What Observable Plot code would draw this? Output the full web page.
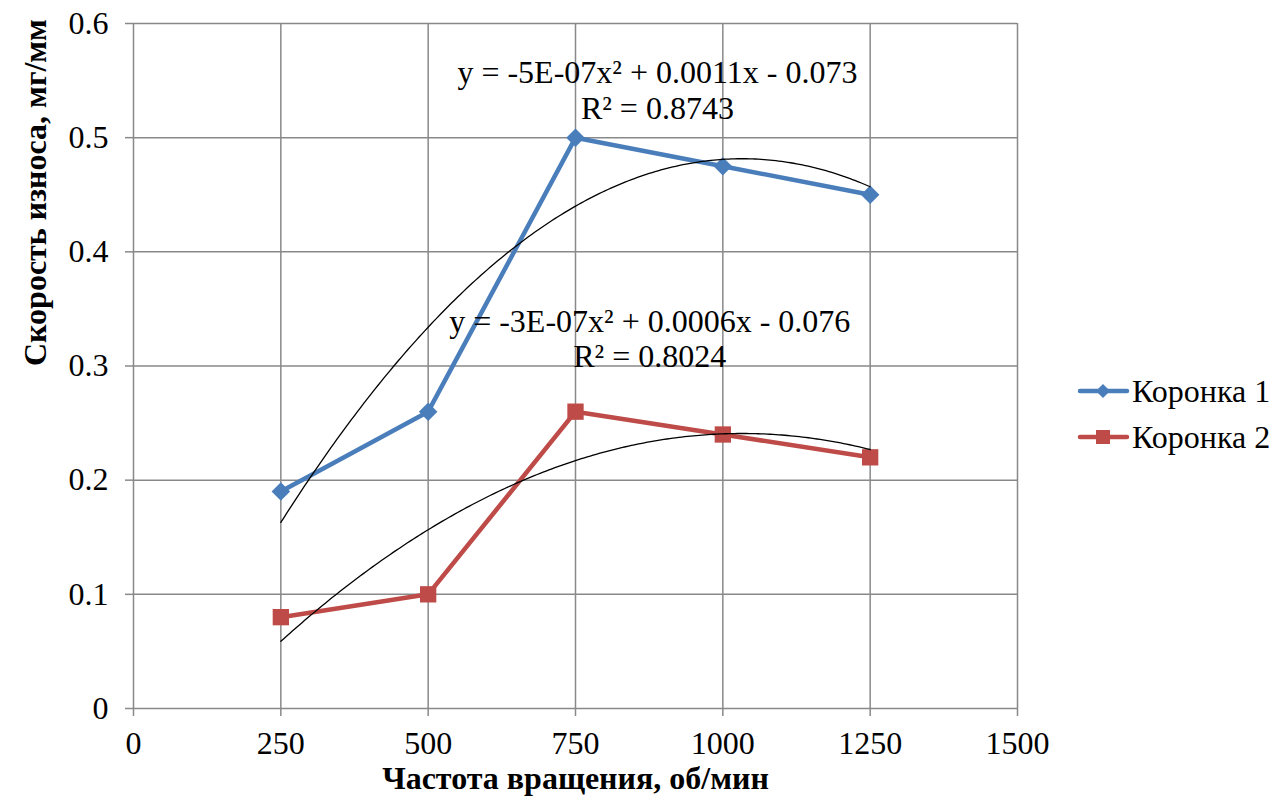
<!DOCTYPE html>
<html>
<head>
<meta charset="utf-8">
<script src="https://cdn.jsdelivr.net/npm/d3@7"></script>
<script src="https://cdn.jsdelivr.net/npm/@observablehq/plot@0.6"></script>
<style>
  html, body { margin: 0; padding: 0; background: #fff; }
  #wrap { position: relative; width: 1286px; height: 805px; font-family: "Liberation Serif", Tinos, "Times New Roman", "DejaVu Serif", serif; }
  #wrap svg text { font-family: "Liberation Serif", Tinos, "Times New Roman", "DejaVu Serif", serif !important; }
  #legend { position: absolute; left: 1077px; top: 368px; font-size: 32px; color: #000; }
  #legend .row { display: flex; align-items: center; height: 46px; }
  #legend svg { margin-right: 2px; }
</style>
</head>
<body>
<div id="wrap"><div id="legend"></div></div>
<script>
const speeds = [250, 500, 750, 1000, 1250];
const crown1 = [0.19, 0.26, 0.50, 0.475, 0.45];
const crown2 = [0.08, 0.10, 0.26, 0.24, 0.22];
const seriesNames = ["Коронка 1", "Коронка 2"];
const xTicks = [0, 250, 500, 750, 1000, 1250, 1500];
const yTicks = [0, 0.1, 0.2, 0.3, 0.4, 0.5, 0.6];
const equations = [
  "y = -5E-07x² + 0.0011x - 0.073\nR² = 0.8743",
  "y = -3E-07x² + 0.0006x - 0.076\nR² = 0.8024"
];
const xTitle = "Частота вращения, об/мин";
const yTitle = "Скорость износа, мг/мм";
const colors = ["#4A7EBB", "#BE4B48"];

// least-squares quadratic trendline (like Excel's polynomial trendline, order 2)
function quadFit(xs, ys) {
  const u = xs.map(x => x / 1000);
  const S = k => d3.sum(u, v => v ** k);
  const T = k => d3.sum(u, (v, i) => v ** k * ys[i]);
  const A = [[S(4), S(3), S(2), T(2)], [S(3), S(2), S(1), T(1)], [S(2), S(1), u.length, T(0)]];
  for (let i = 0; i < 3; i++) {
    for (let j = i + 1; j < 3; j++) {
      const f = A[j][i] / A[i][i];
      for (let k = i; k < 4; k++) A[j][k] -= f * A[i][k];
    }
  }
  const c = [0, 0, 0];
  for (let i = 2; i >= 0; i--) {
    let s = A[i][3];
    for (let k = i + 1; k < 3; k++) s -= A[i][k] * c[k];
    c[i] = s / A[i][i];
  }
  return x => { const v = x / 1000; return c[0] * v * v + c[1] * v + c[2]; };
}

const rows1 = speeds.map((x, i) => ({x, y: crown1[i]}));
const rows2 = speeds.map((x, i) => ({x, y: crown2[i]}));
const f1 = quadFit(speeds, crown1), f2 = quadFit(speeds, crown2);
const xs = d3.range(d3.min(speeds), d3.max(speeds) + 1, 5);
const trend1 = xs.map(x => ({x, y: f1(x)}));
const trend2 = xs.map(x => ({x, y: f2(x)}));

const FONT = '"Liberation Serif", Tinos, "Times New Roman", "DejaVu Serif", serif';
const FS = 32;
const grid = "#898989";
const chart = Plot.plot({
  width: 1286, height: 805,
  marginLeft: 133, marginRight: 269, marginTop: 23, marginBottom: 97,
  style: {fontFamily: FONT, fontSize: FS + "px", color: "#000", background: "#fff"},
  x: {domain: [0, 1500]},
  y: {domain: [0, 0.6]},
  marks: [
    Plot.gridX(xTicks, {stroke: grid, strokeOpacity: 1, strokeWidth: 1.5}),
    Plot.gridY(yTicks, {stroke: grid, strokeOpacity: 1, strokeWidth: 1.5}),
    Plot.axisX(xTicks, {tickSize: 8, tickPadding: 15, stroke: grid, strokeWidth: 1.5, fill: "#000", fontSize: FS, fontFamily: FONT, label: null, tickFormat: d => String(d)}),
    Plot.axisY(yTicks, {tickSize: 8, tickPadding: 17, stroke: grid, strokeWidth: 1.5, fill: "#000", fontSize: FS, fontFamily: FONT, label: null, tickFormat: d => String(d)}),
    Plot.line(rows1, {x: "x", y: "y", stroke: colors[0], strokeWidth: 4.5}),
    Plot.line(rows2, {x: "x", y: "y", stroke: colors[1], strokeWidth: 4.5}),
    Plot.dot(rows1, {x: "x", y: "y", symbol: "square", rotate: 45, r: 7.4, fill: colors[0], stroke: "none"}),
    Plot.dot(rows2, {x: "x", y: "y", symbol: "square", r: 9.2, fill: colors[1], stroke: "none"}),
    Plot.line(trend1, {x: "x", y: "y", stroke: "#000", strokeWidth: 1.3, curve: "linear"}),
    Plot.line(trend2, {x: "x", y: "y", stroke: "#000", strokeWidth: 1.3, curve: "linear"}),
    Plot.text([equations[0]], {x: 889, y: 0.542, text: d => d, fontSize: FS, fontFamily: FONT, lineHeight: 1.1, fill: "#000", textAnchor: "middle", lineAnchor: "middle"}),
    Plot.text([equations[1]], {x: 876, y: 0.324, text: d => d, fontSize: FS, fontFamily: FONT, lineHeight: 1.1, fill: "#000", textAnchor: "middle", lineAnchor: "middle"}),
    Plot.text([xTitle], {frameAnchor: "bottom", dy: 80, text: d => d, fontSize: FS, fontFamily: FONT, fontWeight: "bold", fill: "#000"}),
    Plot.text([yTitle], {frameAnchor: "left", dx: -98, rotate: -90, text: d => d, fontSize: FS, fontFamily: FONT, fontWeight: "bold", fill: "#000"})
  ]
});
const wrap = document.getElementById("wrap");
wrap.insertBefore(chart, wrap.firstChild);

// legend
const legend = d3.select("#legend");
seriesNames.forEach((name, i) => {
  const row = legend.append("div").attr("class", "row");
  const svg = row.append("svg").attr("width", 53).attr("height", 24);
  svg.append("line").attr("x1", 3).attr("x2", 50).attr("y1", 12).attr("y2", 12)
    .attr("stroke", colors[i]).attr("stroke-width", 4.5).attr("stroke-linecap", "round");
  if (i === 0) {
    svg.append("rect").attr("x", 21).attr("y", 7).attr("width", 10).attr("height", 10)
      .attr("fill", colors[i]).attr("transform", "rotate(45 26 12)");
  } else {
    svg.append("rect").attr("x", 19).attr("y", 5).attr("width", 14).attr("height", 14).attr("fill", colors[i]);
  }
  row.append("span").text(name);
});
</script>
</body>
</html>
